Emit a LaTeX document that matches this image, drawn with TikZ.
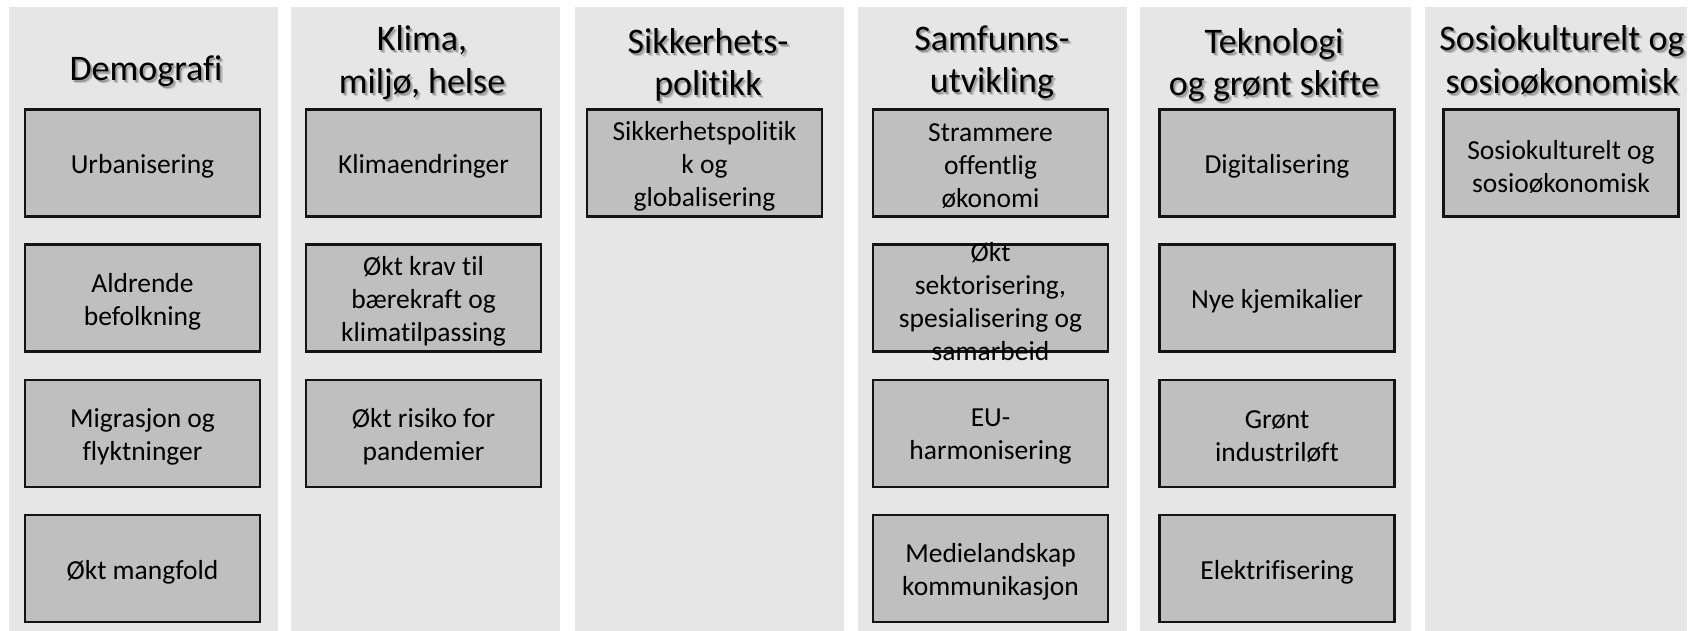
\documentclass[tikz,border=0pt]{standalone}
\usepackage{fontspec}
\setmainfont{Carlito}[Ligatures={NoCommon}]
\definecolor{panelgray}{RGB}{230,230,230}
\definecolor{boxgray}{RGB}{191,191,191}
\definecolor{edgegray}{RGB}{20,20,20}
\tikzset{
  panel/.style={fill=panelgray, draw=none},
  itembox/.style={draw=edgegray, line width=2.4pt, fill=boxgray, minimum width=235pt, minimum height=107pt, inner sep=0pt},
  itemtext/.style={align=center, inner sep=0pt, text=black, yshift=-3.5pt, font=\fontsize{27.5}{33}\selectfont},
  head/.style={inner sep=0pt, text=black, font=\fontsize{36}{43}\selectfont},
  headshadowA/.style={head, text=black, opacity=0.15},
  headshadowB/.style={head, text=black, opacity=0.25}
}
\newcommand{\hdline}[4]{%
  \node[headshadowA, anchor=base] at (#2+3,#3+3) {#4};
  \node[headshadowB, anchor=base] at (#2+1.5,#3+1.5) {#4};
  \node[head, anchor=base] (#1) at (#2,#3) {#4};}
\begin{document}
\begin{tikzpicture}[x=1pt,y=-1pt]
\fill[white] (0,0) rectangle (1694,631);
\useasboundingbox (0,0) rectangle (1694,631);
% panels
\fill[panel] (9,7) rectangle (278,631);
\fill[panel] (291,7) rectangle (560,631);
\fill[panel] (575,7) rectangle (844,631);
\fill[panel] (858,7) rectangle (1127,631);
\fill[panel] (1140,7) rectangle (1411,631);
\fill[panel] (1425,7) rectangle (1687,631);
% headers
\hdline{h1}{146}{81}{Demografi}
\hdline{h2a}{422}{51}{Klima,}
\hdline{h2b}{422}{94}{miljø, helse}
\hdline{h3a}{708}{54}{Sikkerhets-}
\hdline{h3b}{708}{96}{politikk}
\hdline{h4a}{992}{51}{Samfunns-}
\hdline{h4b}{992}{93}{utvikling}
\hdline{h5a}{1274}{54}{Teknologi}
\hdline{h5b}{1274}{96}{og grønt skifte}
\hdline{h6a}{1562}{51}{Sosiokulturelt og}
\hdline{h6b}{1562}{94}{sosioøkonomisk}
% column 1
\node[itembox] (d1) at (142.5,163) {};
\node[itembox] (d2) at (142.5,298) {};
\node[itembox] (d3) at (142.5,433.5) {};
\node[itembox] (d4) at (142.5,568.5) {};
\node[itemtext] (t_d1) at (d1) {Urbanisering};
\node[itemtext] (t_d2) at (d2) {Aldrende\\befolkning};
\node[itemtext] (t_d3) at (d3) {Migrasjon og\\flyktninger};
\node[itemtext] (t_d4) at (d4) {Økt mangfold};
% column 2
\node[itembox] (k1) at (423.5,163) {};
\node[itembox] (k2) at (423.5,298) {};
\node[itembox] (k3) at (423.5,433.5) {};
\node[itemtext] (t_k1) at (k1) {Klimaendringer};
\node[itemtext] (t_k2) at (k2) {Økt krav til\\bærekraft og\\klimatilpassing};
\node[itemtext] (t_k3) at (k3) {Økt risiko for\\pandemier};
% column 3
\node[itembox] (s1) at (704.5,163) {};
\node[itemtext] (t_s1) at (s1) {Sikkerhetspolitik\\k og\\globalisering};
% column 4
\node[itembox] (u1) at (990.5,163) {};
\node[itembox] (u2) at (990.5,298) {};
\node[itembox] (u3) at (990.5,433.5) {};
\node[itembox] (u4) at (990.5,568.5) {};
\node[itemtext] (t_u1) at (u1) {Strammere\\offentlig\\økonomi};
\node[itemtext] (t_u2) at (u2) {Økt\\sektorisering,\\spesialisering og\\samarbeid};
\node[itemtext] (t_u3) at (u3) {EU-\\harmonisering};
\node[itemtext] (t_u4) at (u4) {Medielandskap\\kommunikasjon};
% column 5
\node[itembox] (g1) at (1277,163) {};
\node[itembox] (g2) at (1277,298) {};
\node[itembox] (g3) at (1277,433.5) {};
\node[itembox] (g4) at (1277,568.5) {};
\node[itemtext] (t_g1) at (g1) {Digitalisering};
\node[itemtext] (t_g2) at (g2) {Nye kjemikalier};
\node[itemtext] (t_g3) at (g3) {Grønt\\industriløft};
\node[itemtext] (t_g4) at (g4) {Elektrifisering};
% column 6
\node[itembox] (o1) at (1561,163) {};
\node[itemtext] (t_o1) at (o1) {Sosiokulturelt og\\sosioøkonomisk};
\end{tikzpicture}
\end{document}
